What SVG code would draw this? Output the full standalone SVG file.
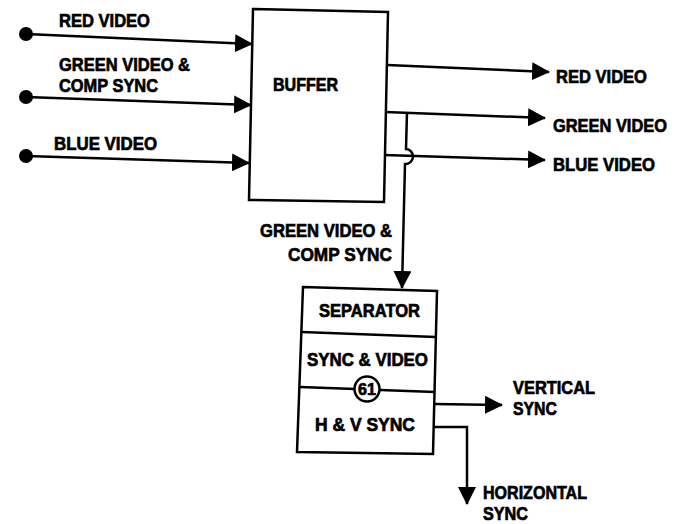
<svg xmlns="http://www.w3.org/2000/svg" width="685" height="524" viewBox="0 0 685 524">
<style>
  .t { font-family: "Liberation Sans", Arial, sans-serif; font-weight: bold; font-size: 19px; fill: #000; stroke: #000; stroke-width: 0.7; }
  .box { fill: #fff; stroke: #000; stroke-width: 2.5; stroke-linejoin: miter; }
  .ln { fill: none; stroke: #000; stroke-width: 2.5; }
  .dot { fill: #000; }
</style>
<defs>
  <marker id="arr" markerUnits="userSpaceOnUse" markerWidth="18" markerHeight="18" refX="17" refY="9" orient="auto">
    <path d="M0,0 L18,9 L0,18 Z" fill="#000"/>
  </marker>
</defs>
<rect width="685" height="524" fill="#fff"/>

<g id="connectors">
  <line class="ln" x1="26" y1="34" x2="252" y2="44" marker-end="url(#arr)"/>
  <line class="ln" x1="26" y1="97" x2="251" y2="105" marker-end="url(#arr)"/>
  <line class="ln" x1="26" y1="156" x2="249" y2="163" marker-end="url(#arr)"/>
  <circle class="dot" cx="26" cy="34" r="7"/>
  <circle class="dot" cx="26" cy="97" r="7"/>
  <circle class="dot" cx="26" cy="156" r="7"/>
  <line class="ln" x1="387" y1="65" x2="549" y2="72" marker-end="url(#arr)"/>
  <line class="ln" x1="385" y1="112" x2="545" y2="118" marker-end="url(#arr)"/>
  <line class="ln" x1="384" y1="155" x2="545" y2="160" marker-end="url(#arr)"/>
  <path class="ln" d="M407,112 L406,149 A7.5,7.5 0 0 1 405,164 L402,288" marker-end="url(#arr)"/>
  <line class="ln" x1="434" y1="404" x2="502" y2="405" marker-end="url(#arr)"/>
  <path class="ln" d="M434,427 L467,427 L467,504" marker-end="url(#arr)"/>
</g>

<g id="buffer">
  <path class="box" d="M253,9 L388,12 L384,202 L249,200 Z"/>
  <text class="t" x="273" y="91" textLength="65" lengthAdjust="spacingAndGlyphs">BUFFER</text>
</g>

<g id="separator">
  <path class="box" d="M303,287 L437,291 L433,454 L297,452 Z"/>
  <line class="ln" x1="302" y1="332" x2="436" y2="337"/>
  <line class="ln" x1="300" y1="387" x2="355" y2="389"/>
  <line class="ln" x1="380" y1="390" x2="435" y2="392"/>
  <circle cx="367" cy="389" r="12.5" fill="#fff" stroke="#000" stroke-width="2.5"/>
  <text class="t" x="367" y="395" text-anchor="middle" style="font-size:16px">61</text>
  <text class="t" x="319" y="317" textLength="101" lengthAdjust="spacingAndGlyphs">SEPARATOR</text>
  <text class="t" x="307" y="366" textLength="121" lengthAdjust="spacingAndGlyphs">SYNC &amp; VIDEO</text>
  <text class="t" x="315" y="431" textLength="100" lengthAdjust="spacingAndGlyphs">H &amp; V SYNC</text>
</g>

<g id="labels">
  <text class="t" x="59" y="27" textLength="91" lengthAdjust="spacingAndGlyphs">RED VIDEO</text>
  <text class="t" x="59" y="71" textLength="131" lengthAdjust="spacingAndGlyphs">GREEN VIDEO &amp;</text>
  <text class="t" x="59" y="92" textLength="99" lengthAdjust="spacingAndGlyphs">COMP SYNC</text>
  <text class="t" x="54" y="150" textLength="103" lengthAdjust="spacingAndGlyphs">BLUE VIDEO</text>
  <text class="t" x="556" y="83" textLength="91" lengthAdjust="spacingAndGlyphs">RED VIDEO</text>
  <text class="t" x="553" y="132" textLength="114" lengthAdjust="spacingAndGlyphs">GREEN VIDEO</text>
  <text class="t" x="553" y="171" textLength="102" lengthAdjust="spacingAndGlyphs">BLUE VIDEO</text>
  <text class="t" x="260" y="237" textLength="132" lengthAdjust="spacingAndGlyphs">GREEN VIDEO &amp;</text>
  <text class="t" x="288" y="261" textLength="104" lengthAdjust="spacingAndGlyphs">COMP SYNC</text>
  <text class="t" x="513" y="394" textLength="82" lengthAdjust="spacingAndGlyphs">VERTICAL</text>
  <text class="t" x="513" y="415" textLength="44" lengthAdjust="spacingAndGlyphs">SYNC</text>
  <text class="t" x="483" y="499" textLength="104" lengthAdjust="spacingAndGlyphs">HORIZONTAL</text>
  <text class="t" x="483" y="520" textLength="45" lengthAdjust="spacingAndGlyphs">SYNC</text>
</g>
</svg>
